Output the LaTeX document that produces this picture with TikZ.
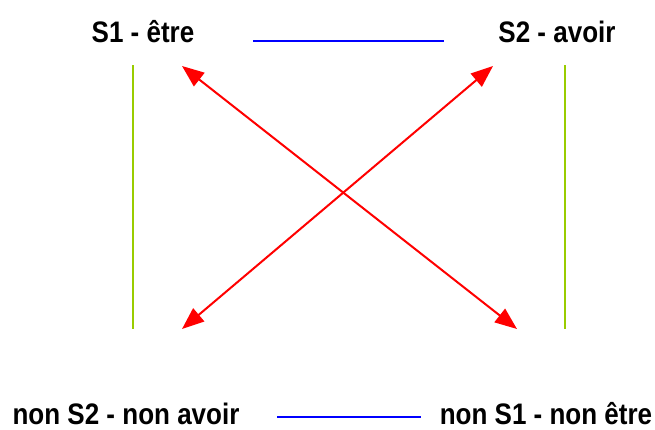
\documentclass[tikz,border=0pt]{standalone}
\usepackage{fontspec}
\setmainfont{Liberation Sans}
\usetikzlibrary{arrows.meta}
\definecolor{sqgreen}{HTML}{99CC00}
\definecolor{sqblue}{HTML}{0000FF}
\definecolor{sqred}{HTML}{FF0000}
\newcommand{\sqterm}[1]{\scalebox{1}[1.14]{#1}}
\tikzset{
  term/.style={font=\bfseries\fontsize{26}{30}\selectfont, inner sep=0pt, anchor=base},
  contrary/.style={draw=sqblue, line width=1.3pt},
  implication/.style={draw=sqgreen, line width=2pt},
  contradiction/.style={draw=sqred, line width=2pt, {Triangle[length=22pt,width=17pt]}-{Triangle[length=22pt,width=17pt]}},
}
\begin{document}
\begin{tikzpicture}[x=1pt,y=-1pt]
\useasboundingbox (0,0) rectangle (655,429);
\node[term] (s1) at (143,42) {\sqterm{S1 - être}};
\node[term] (s2) at (557,42) {\sqterm{S2 - avoir}};
\node[term] (ns2) at (126,424) {\sqterm{non S2 - non avoir}};
\node[term] (ns1) at (546,424) {\sqterm{non S1 - non être}};
\coordinate (tbl) at (253,41);
\coordinate (tbr) at (444,41);
\coordinate (bbl) at (277,417);
\coordinate (bbr) at (421,417);
\coordinate (lgt) at (133,65);
\coordinate (lgb) at (133,329);
\coordinate (rgt) at (565,65);
\coordinate (rgb) at (565,329);
\coordinate (a1) at (182,66);
\coordinate (a2) at (517,329);
\coordinate (b1) at (493,66);
\coordinate (b2) at (182,329);
\draw[contrary] (tbl) -- (tbr);
\draw[contrary] (bbl) -- (bbr);
\draw[implication] (lgt) -- (lgb);
\draw[implication] (rgt) -- (rgb);
\draw[contradiction] (a1) -- (a2);
\draw[contradiction] (b1) -- (b2);
\end{tikzpicture}
\end{document}
